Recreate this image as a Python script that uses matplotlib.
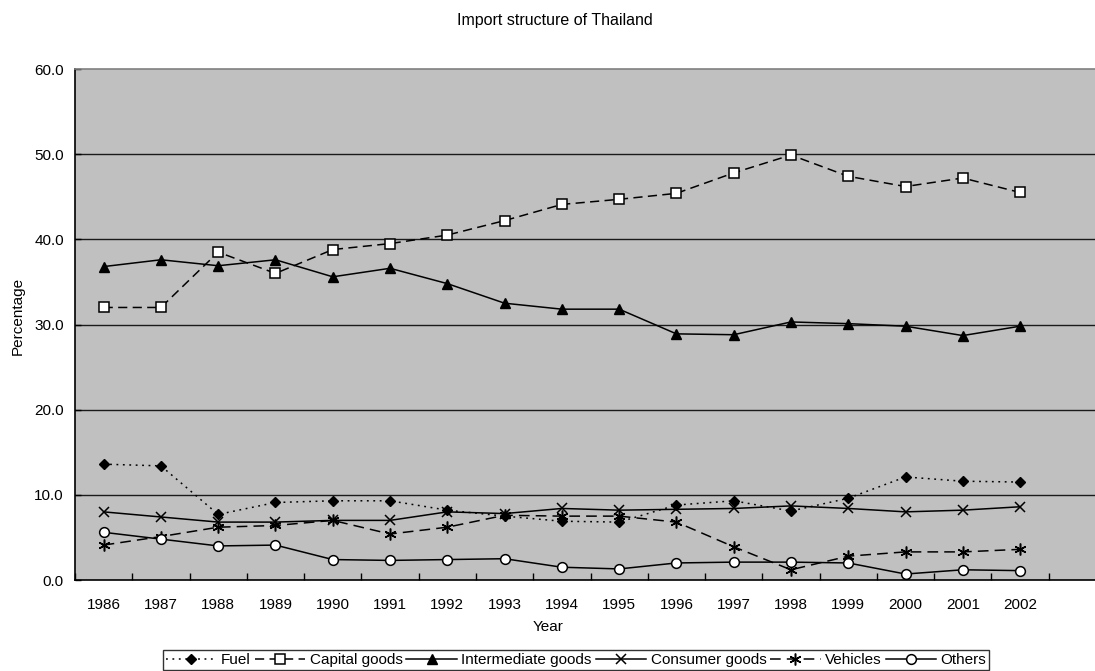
import numpy as np
import matplotlib
matplotlib.use("Agg")
import matplotlib.pyplot as plt
from matplotlib.ticker import FixedLocator, FuncFormatter

plt.rcParams['font.family'] = ['Liberation Sans', 'DejaVu Sans']

years = ["1986", "1987", "1988", "1989", "1990", "1991", "1992", "1993", "1994",
         "1995", "1996", "1997", "1998", "1999", "2000", "2001", "2002"]

fuel = [13.6, 13.4, 7.7, 9.1, 9.3, 9.3, 8.2, 7.5, 6.9, 6.8, 8.8, 9.3, 8.1, 9.6, 12.1, 11.6, 11.5]
capital_goods = [32.0, 32.0, 38.5, 36.0, 38.8, 39.5, 40.5, 42.2, 44.1, 44.7, 45.4, 47.8, 49.9, 47.4, 46.2, 47.2, 45.5]
intermediate_goods = [36.8, 37.6, 36.9, 37.6, 35.6, 36.6, 34.8, 32.5, 31.8, 31.8, 28.9, 28.8, 30.3, 30.1, 29.8, 28.7, 29.8]
consumer_goods = [8.0, 7.4, 6.8, 6.8, 7.0, 7.0, 8.0, 7.8, 8.4, 8.2, 8.3, 8.4, 8.7, 8.4, 8.0, 8.2, 8.6]
vehicles = [4.1, 5.1, 6.2, 6.4, 7.0, 5.4, 6.2, 7.6, 7.5, 7.5, 6.8, 3.9, 1.2, 2.8, 3.3, 3.3, 3.6]
others = [5.6, 4.8, 4.0, 4.1, 2.4, 2.3, 2.4, 2.5, 1.5, 1.3, 2.0, 2.1, 2.1, 2.0, 0.7, 1.2, 1.1]

y_ticks = [0, 10, 20, 30, 40, 50, 60]

W, H = 1095, 671
fig = plt.figure(figsize=(W / 100, H / 100), dpi=100)
left, right, top, bottom = 75, 1106, 69, 580
ax = fig.add_axes([left / W, 1 - bottom / H, (right - left) / W, (bottom - top) / H])
ax.set_facecolor('#C0C0C0')

x = np.arange(len(years))
asterisk = (6, 2, 0)

series = [
    ("Fuel", fuel, dict(linestyle=(0, (1.2, 3)), marker='D', markersize=5.5,
                        markerfacecolor='black', markeredgecolor='black')),
    ("Capital goods", capital_goods, dict(linestyle=(0, (6, 3.5)), marker='s', markersize=7,
                                          markerfacecolor='white', markeredgecolor='black',
                                          markeredgewidth=1.1)),
    ("Intermediate goods", intermediate_goods, dict(linestyle='-', marker='^', markersize=7,
                                                    markerfacecolor='black', markeredgecolor='black')),
    ("Consumer goods", consumer_goods, dict(linestyle='-', marker='x', markersize=7.5,
                                            markeredgecolor='black', markeredgewidth=1.1)),
    ("Vehicles", vehicles, dict(linestyle=(0, (7, 4)), marker=asterisk, markersize=8.5,
                                markeredgecolor='black', markeredgewidth=1.1)),
    ("Others", others, dict(linestyle='-', marker='o', markersize=7,
                            markerfacecolor='white', markeredgecolor='black',
                            markeredgewidth=1.1)),
]

handles = []
for name, vals, style in series:
    h, = ax.plot(x, vals, color='black', linewidth=1.1, label=name, zorder=3, **style)
    handles.append(h)

ax.set_xlim(-0.5, 17.5)
ax.set_ylim(0, 60)

# horizontal gridlines
for v in y_ticks[1:-1]:
    ax.axhline(v, color='#1a1a1a', linewidth=1.0, zorder=1)

ax.yaxis.set_major_locator(FixedLocator(y_ticks))
ax.yaxis.set_major_formatter(FuncFormatter(lambda v, p: f"{v:.1f}"))
ax.tick_params(axis='y', direction='in', length=4, width=1, labelsize=11, pad=8)

ax.set_xticks(x)
ax.set_xticklabels(years)
ax.set_xticks(np.arange(-0.5, 17.6, 1), minor=True)
ax.tick_params(axis='x', which='major', length=0, labelsize=11, pad=13)
ax.tick_params(axis='x', which='minor', direction='in', length=5, width=1)

for s in ['left', 'bottom']:
    ax.spines[s].set_color('black')
    ax.spines[s].set_linewidth(1.2)
ax.spines['top'].set_color('#808080')
ax.spines['top'].set_linewidth(1.2)
ax.spines['right'].set_visible(False)

fig.text(555 / W, 1 - 20 / H, "Import structure of Thailand", ha='center', va='center', fontsize=11.5)
fig.text(548 / W, 1 - 627 / H, "Year", ha='center', va='center', fontsize=11)
fig.text(18 / W, 1 - 316 / H, "Percentage", ha='center', va='center', rotation=90, fontsize=11)

leg = fig.legend(handles=handles, loc='upper left', bbox_to_anchor=(163 / W, 1 - 650 / H),
                 ncol=6, fontsize=11, frameon=True, fancybox=False, shadow=False,
                 handlelength=3.3, handletextpad=0.3, columnspacing=0.25,
                 borderpad=0.2, borderaxespad=0)
leg.get_frame().set_edgecolor('black')
leg.get_frame().set_linewidth(1.0)
leg.get_frame().set_facecolor('white')

fig.savefig("out.png", dpi=100)
